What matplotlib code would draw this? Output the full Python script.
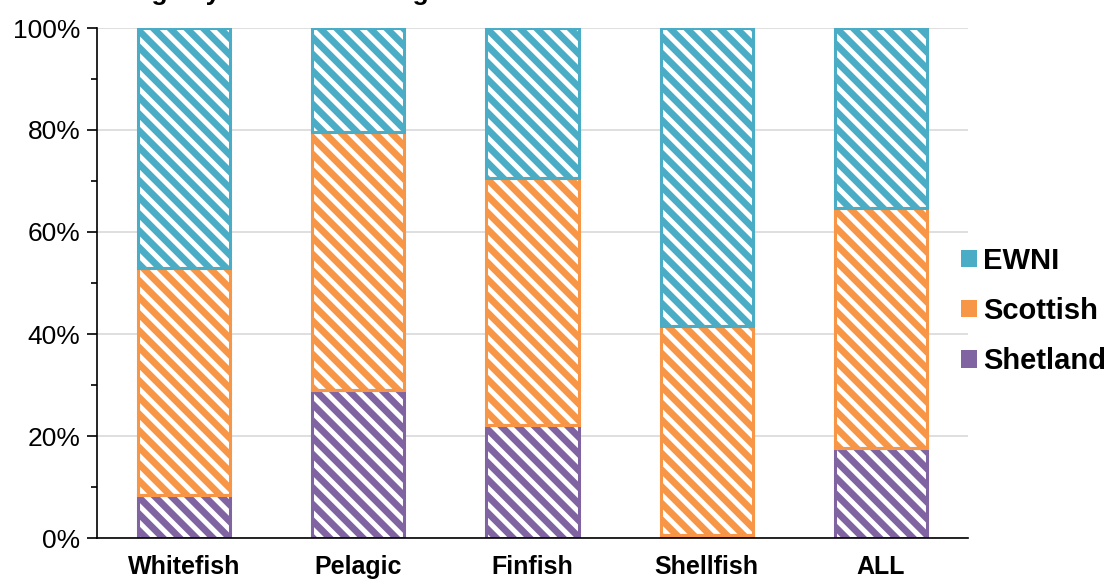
import matplotlib
matplotlib.use('agg')
import matplotlib.pyplot as plt
import matplotlib.patches as mpatches
import numpy as np

categories = ['Whitefish', 'Pelagic', 'Finfish', 'Shellfish', 'ALL']
shetland = [8.4, 29.0, 22.2, 0.6, 17.6]
scottish = [44.5, 50.6, 48.4, 41.0, 47.1]
ewni = [47.1, 20.4, 29.4, 58.4, 35.3]

series = [('Shetland', shetland, '#8064A2'),
          ('Scottish', scottish, '#F79646'),
          ('EWNI', ewni, '#4BACC6')]

plt.rcParams['font.family'] = ['Liberation Sans', 'DejaVu Sans']
plt.rcParams['hatch.linewidth'] = 3.6

fig = plt.figure(figsize=(11.11, 5.81), dpi=100)
ax = fig.add_axes([97/1111, 1-538/581, (968-97)/1111, (538-28)/581])

x = np.arange(len(categories))
bottom = np.zeros(len(categories))
for name, vals, col in series:
    vals = np.array(vals)
    # white stripes over colour, then an outline in the same colour
    ax.bar(x, vals, 0.53, bottom=bottom, color=col, edgecolor='white',
           linewidth=0, hatch='\\\\', zorder=3)
    ax.bar(x, vals, 0.53, bottom=bottom, fill=False, edgecolor=col,
           linewidth=2.2, zorder=4)
    bottom += vals

ax.set_xlim(-0.5, 4.5)
ax.set_ylim(0, 100)
ax.set_yticks(np.arange(0, 101, 20))
ax.set_yticks(np.arange(10, 100, 20), minor=True)
ax.set_yticklabels(['%d%%' % v for v in range(0, 101, 20)], fontsize=19)
ax.set_xticks(x)
ax.set_xticklabels(categories, fontsize=18, fontweight='bold')
ax.tick_params(axis='x', length=0, pad=12)
ax.tick_params(axis='y', which='major', length=7, width=1.2, direction='out', pad=5)
ax.tick_params(axis='y', which='minor', length=4, width=1.2, direction='out')
ax.yaxis.grid(True, which='major', color='#D9D9D9', linewidth=1.2, zorder=0)
ax.set_axisbelow(True)
for s in ['top', 'right']:
    ax.spines[s].set_visible(False)
ax.spines['left'].set_linewidth(1.2)
ax.spines['bottom'].set_linewidth(1.2)
ax.spines['bottom'].set_zorder(5)

handles = []
for name, vals, col in series[::-1]:
    handles.append(mpatches.Patch(facecolor=col, edgecolor=col, linewidth=0,
                                  label=name))
leg = fig.legend(handles=handles, loc='center left', bbox_to_anchor=(961/1111, 1-311/581),
                 frameon=False, prop={'size': 21, 'weight': 'bold'},
                 handlelength=0.55, handleheight=0.55, handletextpad=0.2,
                 labelspacing=0.76, borderaxespad=0, borderpad=0)

fig.text(40/1111, 1.0, 'Percentage by value of landings', fontsize=19,
         fontweight='bold', va='baseline', ha='left')

plt.savefig('out.png', dpi=100)
plt.close()
